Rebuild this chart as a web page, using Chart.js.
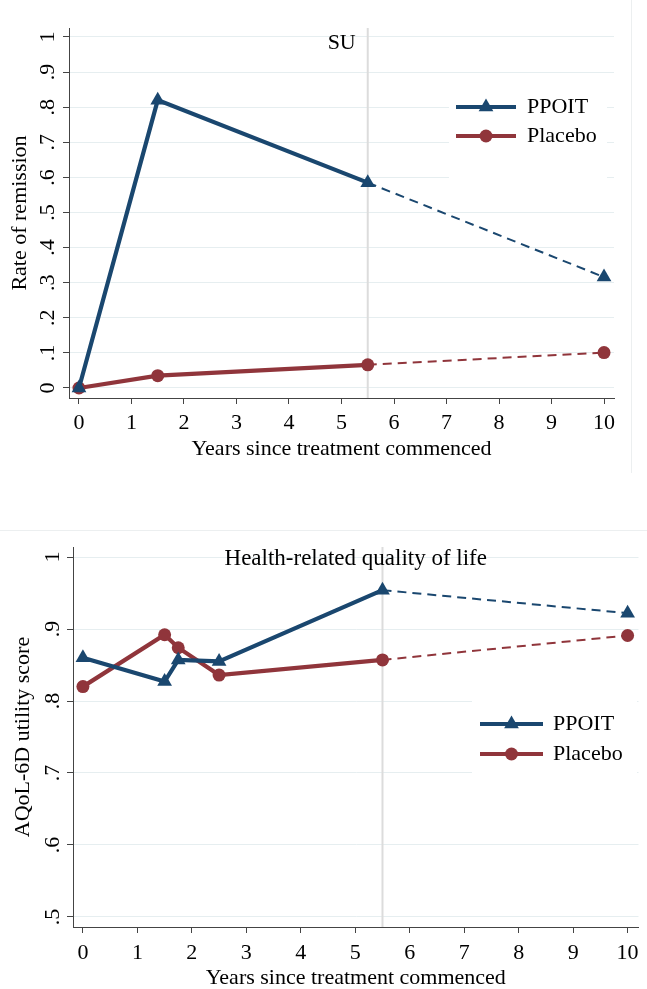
<!DOCTYPE html>
<html>
<head>
<meta charset="utf-8">
<script src="https://cdn.jsdelivr.net/npm/chart.js@4.4.1/dist/chart.umd.min.js"></script>
<style>
  body { margin: 0; background: #fff; }
  #page { position: relative; width: 647px; height: 989px; overflow: hidden; background: #fff; }
  canvas { position: absolute; left: 0; }
  #remissionChart { top: 0; }
  #qolChart { top: 500px; }
  .frame { position: absolute; }
  #frameTop { left: 631px; top: 0; width: 1px; height: 473px; background: #eceff0; }
  #frameBottom { left: 0; top: 530px; width: 647px; height: 1px; background: #eceff0; }
</style>
</head>
<body>
<div id="page">
  <div class="frame" id="frameTop"></div>
  <div class="frame" id="frameBottom"></div>
  <canvas id="remissionChart" width="647" height="480"></canvas>
  <canvas id="qolChart" width="647" height="489"></canvas>
</div>
<script>
// values
const years = [0, 1.5, 5.5, 10];
const remissionPPOIT = [0, 0.82, 0.585, 0.316];
const remissionPlacebo = [0, 0.035, 0.066, 0.101];

const qolYears = [0, 1.5, 1.75, 2.5, 5.5, 10];
const qolPPOIT = [0.86, 0.827, 0.857, 0.855, 0.954, 0.922];
const qolPlacebo = [0.82, 0.892, 0.874, 0.836, 0.857, 0.891];

const yearTicks = [0, 1, 2, 3, 4, 5, 6, 7, 8, 9, 10];
const remissionTicks = [0, 0.1, 0.2, 0.3, 0.4, 0.5, 0.6, 0.7, 0.8, 0.9, 1];
const remissionLabels = ['0', '.1', '.2', '.3', '.4', '.5', '.6', '.7', '.8', '.9', '1'];
const qolTicks = [0.5, 0.6, 0.7, 0.8, 0.9, 1];
const qolLabels = ['.5', '.6', '.7', '.8', '.9', '1'];

const seriesNames = ['PPOIT', 'Placebo'];
const suYear = 5.5;

const NAVY = '#1a476f';
const MAROON = '#90353b';
const FONT = '"Liberation Serif", "Times New Roman", serif';

Chart.defaults.font.family = FONT;
Chart.defaults.font.size = 22;
Chart.defaults.color = '#000';

function makeDataset(label, xs, ys, color, pointStyle, radius, width) {
  return {
    label: label,
    data: xs.map((x, i) => ({ x: x, y: ys[i] })),
    borderColor: color,
    backgroundColor: color,
    pointBackgroundColor: color,
    pointBorderWidth: 0,
    pointStyle: pointStyle,
    pointRadius: radius,
    borderWidth: width,
    tension: 0,
    segment: {
      // after SU the lines are projections, drawn thin and dashed
      borderDash: ctx => ctx.p0.parsed.x >= suYear ? [9, 6] : undefined,
      borderWidth: ctx => ctx.p0.parsed.x >= suYear ? 2 : width
    }
  };
}

const suLine = {
  id: 'suLine',
  beforeDatasetsDraw(chart) {
    const x = chart.scales.x.getPixelForValue(suYear);
    const area = chart.chartArea;
    const ctx = chart.ctx;
    ctx.save();
    ctx.strokeStyle = '#dcdcdc';
    ctx.lineWidth = 2;
    ctx.beginPath();
    ctx.moveTo(x, area.top);
    ctx.lineTo(x, area.bottom);
    ctx.stroke();
    ctx.restore();
  }
};

const stataLegend = {
  id: 'stataLegend',
  afterDatasetsDraw(chart, args, opts) {
    const ctx = chart.ctx;
    ctx.save();
    ctx.fillStyle = '#fff';
    ctx.fillRect(opts.left, opts.top, opts.width, opts.height);
    chart.data.datasets.forEach((ds, i) => {
      const y = opts.firstRow + i * opts.rowGap;
      ctx.strokeStyle = ds.borderColor;
      ctx.lineWidth = ds.borderWidth;
      ctx.beginPath();
      ctx.moveTo(opts.lineStart, y);
      ctx.lineTo(opts.lineStart + opts.lineLen, y);
      ctx.stroke();
      ctx.fillStyle = ds.backgroundColor;
      Chart.helpers.drawPoint(ctx, {
        pointStyle: ds.pointStyle, radius: ds.pointRadius, rotation: 0, borderWidth: 0
      }, opts.lineStart + opts.lineLen / 2, y);
      ctx.fillStyle = '#000';
      ctx.font = '22px ' + FONT;
      ctx.textAlign = 'left';
      ctx.textBaseline = 'middle';
      ctx.fillText(ds.label, opts.textX, y);
    });
    ctx.restore();
  }
};

const plotNotes = {
  id: 'plotNotes',
  afterDraw(chart, args, opts) {
    const ctx = chart.ctx;
    const area = chart.chartArea;
    ctx.save();
    ctx.fillStyle = '#000';
    ctx.textBaseline = 'middle';
    (opts.items || []).forEach(item => {
      let x;
      if (item.at === 'center') x = (area.left + area.right) / 2;
      else x = chart.scales.x.getPixelForValue(item.at) + (item.dx || 0);
      ctx.font = (item.size || 22) + 'px ' + FONT;
      ctx.textAlign = item.align;
      ctx.fillText(item.text, x, item.y);
    });
    ctx.restore();
  }
};

function xScaleOptions(min, max, height, tickPad, titlePad, titleLineHeight) {
  return {
    type: 'linear',
    min: min,
    max: max,
    afterBuildTicks: axis => { axis.ticks = yearTicks.map(v => ({ value: v })); },
    afterFit: axis => { axis.height = height; axis.paddingLeft = 0; axis.paddingRight = 0; },
    ticks: { autoSkip: false, maxRotation: 0, padding: tickPad, callback: v => String(v) },
    grid: { drawOnChartArea: false, drawTicks: true, tickLength: 6, tickColor: '#444', tickWidth: 1 },
    border: { display: true, color: '#444', width: 1 },
    title: {
      display: true,
      text: 'Years since treatment commenced',
      font: { size: 22, lineHeight: titleLineHeight },
      padding: titlePad
    }
  };
}

function yScaleOptions(min, max, ticks, labels, width, tickPad, title, titlePadTop) {
  return {
    type: 'linear',
    min: min,
    max: max,
    afterBuildTicks: axis => { axis.ticks = ticks.map(v => ({ value: v })); },
    afterFit: axis => { axis.width = width; },
    ticks: {
      autoSkip: false,
      minRotation: 90,
      maxRotation: 90,
      crossAlign: 'center',
      padding: tickPad,
      callback: v => labels[ticks.findIndex(t => Math.abs(t - v) < 1e-9)]
    },
    grid: { color: '#e6eef0', lineWidth: 1, drawTicks: true, tickLength: 6, tickColor: '#444', tickWidth: 1 },
    border: { display: true, color: '#444', width: 1 },
    title: { display: true, text: title, padding: { top: titlePadTop, bottom: 0 } }
  };
}

const remissionChart = new Chart(document.getElementById('remissionChart'), {
  type: 'line',
  data: {
    datasets: [
      makeDataset(seriesNames[0], years, remissionPPOIT, NAVY, 'triangle', 8.5, 4.2),
      makeDataset(seriesNames[1], years, remissionPlacebo, MAROON, 'circle', 6.5, 4.2)
    ]
  },
  options: {
    responsive: false,
    devicePixelRatio: 1,
    animation: false,
    layout: { padding: { left: 0, right: 33, top: 28, bottom: 14 } },
    scales: {
      x: xScaleOptions(-0.19, 10.19, 68, 6, { top: 4, bottom: 4 }, 1.2),
      y: yScaleOptions(-0.0285, 1.0256, remissionTicks, remissionLabels, 69, 7, 'Rate of remission', 7)
    },
    plugins: {
      legend: { display: false },
      tooltip: { enabled: false },
      stataLegend: { left: 449, top: 80, width: 158, height: 102, firstRow: 107, rowGap: 29, lineStart: 456, lineLen: 60, textX: 527 },
      plotNotes: { items: [{ text: 'SU', at: suYear, dx: -12, y: 43, align: 'right' }] }
    }
  },
  plugins: [suLine, stataLegend, plotNotes]
});

const qolChart = new Chart(document.getElementById('qolChart'), {
  type: 'line',
  data: {
    datasets: [
      makeDataset(seriesNames[0], qolYears, qolPPOIT, NAVY, 'triangle', 8.5, 4.2),
      makeDataset(seriesNames[1], qolYears, qolPlacebo, MAROON, 'circle', 6.5, 4.2)
    ]
  },
  options: {
    responsive: false,
    devicePixelRatio: 1,
    animation: false,
    layout: { padding: { left: 0, right: 4, top: 47, bottom: 0 } },
    scales: {
      x: xScaleOptions(-0.182, 10.2, 62, 7, { top: 0, bottom: 0 }, 1),
      y: yScaleOptions(0.4861, 1.0139, qolTicks, qolLabels, 73, 6, 'AQoL-6D utility score', 10)
    },
    plugins: {
      legend: { display: false },
      tooltip: { enabled: false },
      stataLegend: { left: 472, top: 192, width: 165, height: 92, firstRow: 224, rowGap: 30, lineStart: 480, lineLen: 63, textX: 553 },
      plotNotes: { items: [{ text: 'Health-related quality of life', at: 'center', y: 59, align: 'center', size: 23 }] }
    }
  },
  plugins: [suLine, stataLegend, plotNotes]
});
</script>
</body>
</html>
